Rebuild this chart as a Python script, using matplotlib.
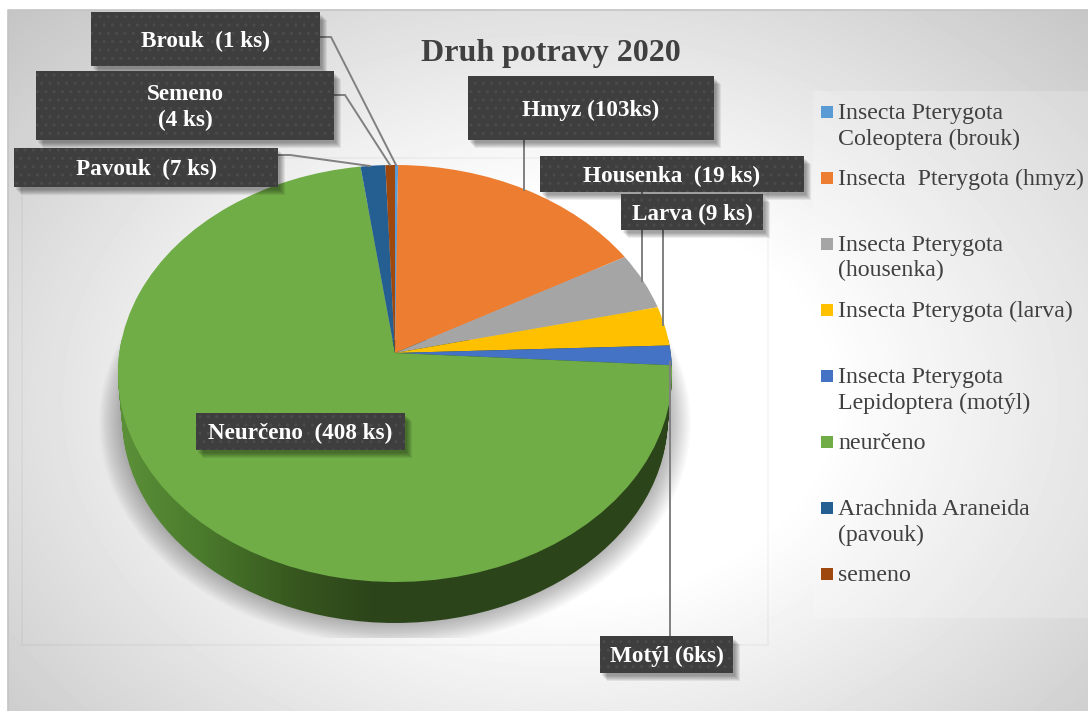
import numpy as np
import matplotlib
matplotlib.use('Agg')
import matplotlib.pyplot as plt
from matplotlib.colors import LinearSegmentedColormap
from matplotlib.patches import Circle, Rectangle
from matplotlib.path import Path
from matplotlib.transforms import Affine2D, Transform

# slice sizes as they are drawn in the picture (the printed counts do not quite match them)
slice_names = ['brouk', 'hmyz', 'housenka', 'larva', 'motyl', 'neurceno', 'pavouk', 'semeno']
slice_sizes = [1.1, 93, 24.8, 17, 8.5, 400, 8.8, 3.4]
slice_colors = ['#5B9BD5', '#ED7D31', '#A5A5A5', '#FFC000', '#4472C4', '#70AD47', '#255E91', '#9E480E']

legend_labels = ['Insecta Pterygota\nColeoptera (brouk)', 'Insecta  Pterygota (hmyz)',
                 'Insecta Pterygota\n(housenka)', 'Insecta Pterygota (larva)',
                 'Insecta Pterygota\nLepidoptera (motýl)', 'neurčeno',
                 'Arachnida Araneida\n(pavouk)', 'semeno']

box_texts = ['Brouk  (1 ks)', 'Semeno\n(4 ks)', 'Pavouk  (7 ks)', 'Hmyz (103ks)',
             'Housenka  (19 ks)', 'Larva (9 ks)', 'Motýl (6ks)', 'Neurčeno  (408 ks)']
box_rects = [(91, 12, 320, 66), (36, 71, 334, 140), (14, 148, 278, 187), (468, 76, 714, 140),
             (540, 156, 804, 192), (621, 194, 763, 230), (600, 636, 733, 673), (196, 413, 405, 450)]
leader_lines = [[(320, 37), (331, 37), (396, 165)],
                [(334, 95), (345, 95), (390, 165)],
                [(278, 155), (290, 155), (370, 166)],
                [(524, 140), (524, 190)],
                [(642, 192), (642, 281)],
                [(663, 230), (663, 325)],
                [(670, 362), (670, 636)]]


class Perspective(Transform):
    # tilted disc: unit circle to pixels, the far edge gets squeezed
    input_dims = 2
    output_dims = 2
    is_separable = False
    has_inverse = False

    def transform_non_affine(self, xy):
        xy = np.asarray(xy, dtype=float)
        w = 1 + 0.0983 * xy[:, 1]
        return np.column_stack([275.7 * xy[:, 0] / w, -206.5 * xy[:, 1] / w])


plt.rcParams['font.family'] = ['Liberation Serif', 'DejaVu Serif']
plt.rcParams['hatch.linewidth'] = 1.0

fig = plt.figure(figsize=(10.88, 7.11), dpi=100)
ax = fig.add_axes([0, 0, 1, 1])
cx, cy = 395, 353


def disc(scale=1.0, dy=0.0):
    return Perspective() + Affine2D().scale(scale).translate(cx, cy + dy) + ax.transData


def disc_px(scale=1.0, dy=0.0):
    return Perspective() + Affine2D().scale(scale).translate(cx, cy + dy)


# background
yy, xx = np.mgrid[10:711, 8:1088]
t = np.hypot((xx - 560) / 640, (yy - 400) / 470)
bg = 1 - 0.26 * np.clip((t - 0.42) / 0.88, 0, 1)
ax.imshow(bg, cmap='gray', vmin=0, vmax=1, extent=(8, 1088, 711, 10), aspect='auto', zorder=0)
ax.plot([8, 8, 1088], [711, 10, 10], color='#c4c4c4', lw=1.2, zorder=1)
ax.add_patch(Rectangle((22, 158), 746, 487, fc='none', ec='black', alpha=0.04, lw=1.2, zorder=1))
ax.add_patch(Rectangle((813, 91), 275, 527, fc='white', ec='none', alpha=0.2, zorder=1))

# shadow under the pie
clip_rect = Rectangle((0, 0), 1088, 638, transform=ax.transData)
for k in range(16):
    p = Circle((0, 0), 1, fc='black', ec='none', alpha=0.02,
               transform=disc(0.985 + k * 0.0055, 44 + k * 0.25), zorder=2)
    ax.add_patch(p)
    p.set_clip_path(clip_rect)

# side of the pie, horizontal gradient clipped to the swept disc
side_cmap = LinearSegmentedColormap.from_list(
    'side', ['#5c9139', '#4a7a2c', '#38591f', '#2c441a', '#2c441a'], N=256)
side = np.linspace(0, 1, 400)[None, :]
im = ax.imshow(side, cmap=side_cmap, vmin=0, vmax=1, extent=(117, 460, 640, 340), aspect='auto', zorder=3)
im2 = ax.imshow([[1]], cmap=side_cmap, vmin=0, vmax=1, extent=(460, 680, 640, 340), aspect='auto', zorder=3)
sweep = Path.make_compound_path(*[
    Path.unit_circle().transformed(disc_px(1 - 0.015 * f, 44.4 * f)) for f in np.linspace(0, 1, 12)])
im.set_clip_path(sweep, ax.transData)
im2.set_clip_path(sweep, ax.transData)

# top of the pie
ax.pie(slice_sizes, colors=slice_colors, startangle=90, counterclock=False,
       wedgeprops={'transform': disc(), 'linewidth': 0, 'zorder': 4})
ax.set_aspect('auto')
ax.set_xlim(0, 1088)
ax.set_ylim(711, 0)
ax.axis('off')

# leader lines
for pts in leader_lines:
    xs, ys = zip(*pts)
    ax.plot(xs, ys, color='#808080', lw=1.4, zorder=5, solid_joinstyle='miter')

# data label boxes
for txt, (x0, y0, x1, y1) in zip(box_texts, box_rects):
    for k in range(6):
        ax.add_patch(Rectangle((x0 + 7 - k, y0 + 8 - k), x1 - x0, y1 - y0,
                               fc='black', ec='none', alpha=0.07, zorder=6))
    ax.add_patch(Rectangle((x0, y0), x1 - x0, y1 - y0, fc='#3e3e3e', ec='#4b4b4b', hatch='..',
                           lw=0, zorder=7))
    ax.text((x0 + x1) / 2, (y0 + y1) / 2 + 2, txt, color='white', fontsize=16.7, fontweight='bold',
            ha='center', va='center', linespacing=1.27, zorder=8)

ax.text(551, 53, 'Druh potravy 2020', color='#404040', fontsize=23, fontweight='bold',
        ha='center', va='center', zorder=5)

# legend, one slot every 66 px
for i, (lab, col) in enumerate(zip(legend_labels, slice_colors)):
    y = 111 + 66 * i
    ax.add_patch(Rectangle((821, y - 5), 12, 12, fc=col, ec='none', zorder=5))
    ax.text(838, y - 8, lab, color='#404040', fontsize=17.2, ha='left', va='top',
            linespacing=1.27, zorder=5)

fig.savefig('out.png', dpi=100)
